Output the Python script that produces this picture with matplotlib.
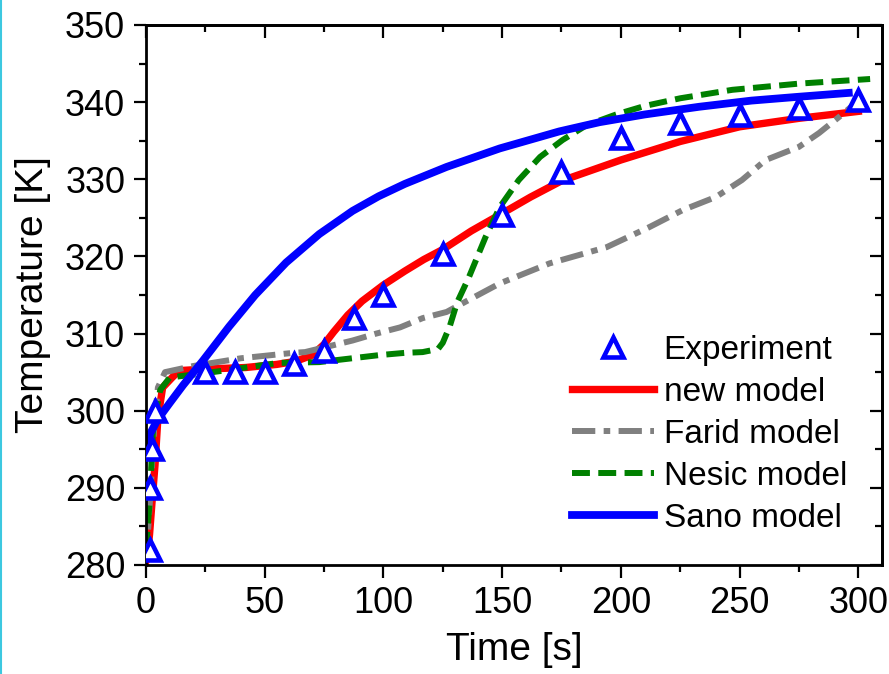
import matplotlib
matplotlib.use('Agg')
import matplotlib.pyplot as plt
from matplotlib.ticker import MultipleLocator
from matplotlib.lines import Line2D

plt.rcParams['font.family'] = ['Liberation Sans', 'DejaVu Sans']

# experiment points
exp_t = [1.5, 1.5, 2.5, 4, 25, 37.5, 50, 62.5, 75, 87.5, 100, 125, 150, 175, 200, 225, 250, 275, 300]
exp_T = [282, 290, 295, 300, 305, 305, 305, 306, 307.8, 312, 315, 320.3, 325.4, 330.9, 335.3, 337.3, 338.3, 339.2, 340.3]

# new model
new_t = [0, 0.5, 1.5, 2.5, 3.8, 5, 7, 11, 14, 25, 42, 55, 63, 70, 75, 79, 85, 91, 100, 109, 117, 125, 137, 149,
         162, 175, 200, 225, 250, 275, 300]
new_T = [280.5, 281, 284, 288, 293, 299, 303, 304.3, 305.2, 305.4, 305.6, 306, 306.4, 307.2, 308.6, 310.2, 312.4,
         314.2, 316.3, 318.1, 319.6, 320.9, 323.3, 325.4, 327.7, 329.8, 332.5, 334.9, 336.8, 337.9, 338.8]

# Farid model
farid_t = [0, 1, 2, 3.5, 5, 8, 20, 40, 62, 67, 75, 87, 97, 107, 116.5, 126.6, 135, 149, 170, 194, 212, 226, 240,
           251, 261, 275, 283.5, 292, 299]
farid_T = [280.5, 285, 290, 298, 303, 305, 305.8, 306.8, 307.5, 307.6, 308.2, 309.1, 310, 310.8, 312, 312.8, 314.2,
           316.5, 319.1, 321.2, 323.8, 326, 327.7, 329.9, 332.5, 334.2, 336, 338.1, 339.9]

# Nesic model
nesic_t = [0, 1.5, 3, 6, 10, 28, 56, 73, 98, 109, 116.5, 123, 125, 128, 131, 136, 143, 149, 157, 166, 175.5, 185.5,
           198, 210, 225, 247, 275, 305]
nesic_T = [282, 288, 297.9, 302.7, 304.3, 305, 306.2, 306.3, 307.2, 307.5, 307.6, 308, 308.8, 311, 314, 317.3, 322.5,
           326.4, 329.9, 332.9, 335.1, 337, 338.4, 339.5, 340.5, 341.6, 342.4, 343]

# Sano model
sano_t = [0, 5, 10, 15.6, 24, 35, 46, 59, 73, 87, 98, 109, 126.6, 149, 174, 191, 210, 233, 255, 275, 296]
sano_T = [296, 298.9, 301, 303.3, 306.5, 310.9, 315, 319.2, 322.9, 325.9, 327.8, 329.4, 331.6, 334, 336.2, 337.4,
          338.4, 339.4, 340.2, 340.7, 341.2]

fig = plt.figure(figsize=(8.89, 6.74), dpi=100)
ax = fig.add_axes([146/889, 1-565/674, (882-146)/889, (565-25)/674])

ax.plot(new_t, new_T, color='#ff0000', lw=5.3, label='new model', solid_joinstyle='round')
ax.plot(farid_t, farid_T, color='#808080', lw=4.3, dashes=(3.9, 1.4, 1.1, 1.4), label='Farid model')
ax.plot(nesic_t, nesic_T, color='#008000', lw=4.3, dashes=(3, 1.4), label='Nesic model')
ax.plot(sano_t, sano_T, color='#0000ff', lw=5.6, label='Sano model', solid_joinstyle='round')
ax.plot(exp_t, exp_T, ls='none', marker='^', ms=15, mfc='white', mec='#0000ff', mew=3.3, label='Experiment',
        zorder=5)

ax.set_xlim(0, 310)
ax.set_ylim(280, 350)
ax.xaxis.set_major_locator(MultipleLocator(50))
ax.xaxis.set_minor_locator(MultipleLocator(25))
ax.yaxis.set_major_locator(MultipleLocator(10))
ax.yaxis.set_minor_locator(MultipleLocator(5))
ax.tick_params(which='both', direction='out', width=1.6, labelsize=26, top=False, right=False)
ax.tick_params(which='major', length=9, pad=6)
ax.tick_params(which='minor', length=5)
for s in ax.spines.values():
    s.set_linewidth(2)

secx = ax.secondary_xaxis('top')
secx.xaxis.set_major_locator(MultipleLocator(50))
secx.xaxis.set_minor_locator(MultipleLocator(25))
secx.tick_params(which='both', direction='in', width=1.6, labeltop=False)
secx.tick_params(which='major', length=9)
secx.tick_params(which='minor', length=5)
secx.spines['top'].set_linewidth(2)
secy = ax.secondary_yaxis('right')
secy.yaxis.set_major_locator(MultipleLocator(10))
secy.yaxis.set_minor_locator(MultipleLocator(5))
secy.tick_params(which='both', direction='in', width=1.6, labelright=False)
secy.tick_params(which='major', length=9)
secy.tick_params(which='minor', length=5)
secy.spines['right'].set_linewidth(2)

ax.set_xlabel('Time [s]', fontsize=28, labelpad=8)
ax.set_ylabel('Temperature [K]', fontsize=28, labelpad=10)

h, l = ax.get_legend_handles_labels()
order = [4, 0, 1, 2, 3]
ax.legend([h[i] for i in order], [l[i] for i in order], loc='upper left',
          bbox_to_anchor=(572/889, 1-335/674), bbox_transform=fig.transFigure,
          frameon=False, fontsize=24, handlelength=2.45, handletextpad=0.3,
          labelspacing=0.33, borderpad=0, borderaxespad=0)

fig.add_artist(Line2D([1/889, 1/889], [0, 1], color='#3cc8e0', lw=1.5))

fig.savefig('out.png', dpi=100)
